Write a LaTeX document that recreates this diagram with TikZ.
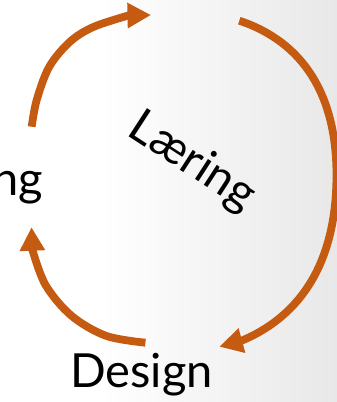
\documentclass[tikz,border=0pt]{standalone}
\usepackage{fontspec}
\setmainfont{Lato}
\usetikzlibrary{arrows.meta}
\definecolor{cycorange}{HTML}{C55A11}
\definecolor{bggray}{RGB}{232,232,232}
\pgfdeclarehorizontalshading{bgshade}{100bp}{color(0bp)=(white); color(25bp)=(white); color(40bp)=(white); color(75bp)=(bggray); color(100bp)=(bggray)}
\begin{document}
\begin{tikzpicture}[x=1pt,y=-1pt,
  cycarrow/.style={draw=cycorange, line width=7.8pt, -{Triangle[length=23.5pt,width=24pt]}},
  lbl/.style={font=\fontsize{47}{56}\selectfont, text=black, inner sep=0pt}]
\useasboundingbox (0,0) rectangle (337,402);
\shade[shading=bgshade] (0,0) rectangle (337,402);
% named end points
\coordinate (a0) at (31.7,126.7);
\coordinate (a1) at (128.3,15.5);
\coordinate (at) at (151,15);
\coordinate (b0) at (239.3,20.7);
\coordinate (bm) at (336.5,175);
\coordinate (b1) at (242.1,340.5);
\coordinate (bt) at (219.3,346.7);
\coordinate (c0) at (145.4,342.7);
\coordinate (c1) at (32.35,249.7);
\coordinate (ct) at (31.5,227.2);
% labels
\node[lbl, anchor=base] (design) at (141.5,387) {Design};
\node[lbl, anchor=base east] (left) at (43.5,195) {ng};
\node[lbl, anchor=base, rotate=-33] (laering) at (185,173) {Læring};
% arcs
\draw[cycarrow] plot[smooth, tension=0.55] coordinates {(a0) (36.7,100) (49.3,66.7) (70,41.7) (93.3,27) (a1)} -- (at);
\draw[cycarrow] (b0) .. controls (303.6,42.1) and (336.5,95.3) .. (bm)
                     .. controls (336.5,272.8) and (292,319.4) .. (b1) -- (bt);
\draw[cycarrow] plot[smooth, tension=0.55] coordinates {(c0) (106.0,335.8) (71.4,315.7) (45.6,285.1) (c1)} -- (ct);
\end{tikzpicture}
\end{document}
